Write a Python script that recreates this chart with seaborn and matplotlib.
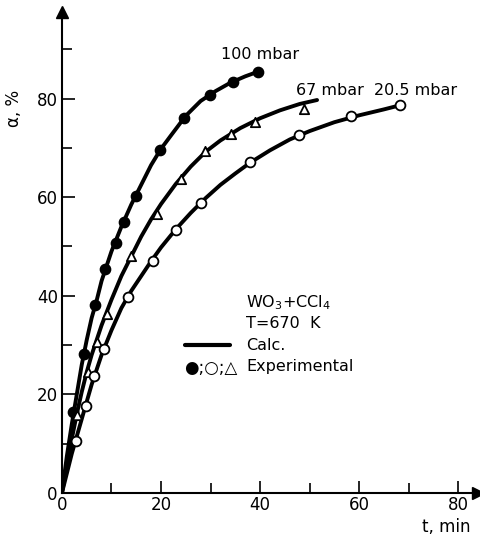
import numpy as np
import pandas as pd
import matplotlib
matplotlib.use('Agg')
import matplotlib.pyplot as plt
import seaborn as sns

sns.set_theme(style="white")
plt.rcParams['font.family'] = ['DejaVu Sans']
plt.rcParams['mathtext.fontset'] = 'dejavusans'
plt.rcParams['text.color'] = 'black'

# Experimental points, t [min] vs alpha [%]
t_100 = [2.3, 4.4, 6.7, 8.7, 10.9, 12.5, 15.0, 19.8, 24.6, 29.9, 34.5, 39.6]
a_100 = [16.5, 28.2, 38.1, 45.4, 50.7, 55.0, 60.2, 69.6, 76.1, 80.7, 83.4, 85.4]

t_67 = [3.0, 5.3, 7.1, 9.1, 13.9, 19.2, 24.0, 28.9, 34.1, 39.0, 48.9]
a_67 = [15.8, 24.5, 30.6, 36.3, 48.1, 56.6, 63.7, 69.4, 72.8, 75.2, 77.9]

t_20 = [2.8, 4.8, 6.5, 8.5, 13.3, 18.4, 23.0, 28.1, 38.0, 47.9, 58.4, 68.3]
a_20 = [10.5, 17.6, 23.7, 29.2, 39.8, 47.1, 53.3, 58.8, 67.1, 72.6, 76.5, 78.7]

# Calculated curves
tc_100 = [0, 1, 2, 3, 4, 5, 6, 7, 8, 9, 10, 11, 12, 14, 16, 18, 20, 22, 25, 28, 31, 34, 37, 40]
ac_100 = [0, 7.5, 14, 20, 26, 31, 35.5, 39, 43, 46, 49, 51.5, 54, 58.5, 62.5, 66.5, 69.8,
          72.5, 76.5, 79.5, 81.5, 83.2, 84.5, 85.6]

tc_67 = [0, 1, 2, 3, 4, 5, 6, 7, 8, 10, 12, 14, 16, 18, 20, 23, 26, 29, 32, 36, 40, 44, 48, 51.5]
ac_67 = [0, 5.5, 11, 16, 20.5, 24.5, 28, 31, 34, 39.2, 44, 48, 52, 55.5, 58.6, 62.7, 66.2,
         69.2, 71.5, 74, 76, 77.6, 78.9, 79.7]

tc_20 = [0, 1, 2, 3, 4, 5, 6, 7, 8, 10, 12, 14, 16, 18, 20, 23, 26, 29, 32, 35, 38, 42, 46,
         50, 55, 60, 65, 68.5]
ac_20 = [0, 4, 8, 11.5, 15, 18.5, 22, 25, 28, 33, 37.5, 41, 44, 47, 49.8, 53.5, 56.8, 59.8,
         62.5, 64.8, 67, 69.5, 71.7, 73.4, 75.2, 76.6, 77.8, 78.7]

fig = plt.figure(figsize=(4.8, 5.42), dpi=100)
ax = fig.add_axes([0.129, 0.0904, 0.867, 0.887])

for tc, ac in [(tc_100, ac_100), (tc_67, ac_67), (tc_20, ac_20)]:
    sns.lineplot(x=tc, y=ac, ax=ax, color='black', lw=2.8, sort=False,
                 solid_capstyle='round', solid_joinstyle='round')

sns.scatterplot(x=t_100, y=a_100, ax=ax, marker='o', s=55, color='black',
                edgecolor='black', linewidth=1, zorder=3)
sns.scatterplot(x=t_67, y=a_67, ax=ax, marker='^', s=45, facecolor='white',
                edgecolor='black', linewidth=1.3, zorder=3)
sns.scatterplot(x=t_20, y=a_20, ax=ax, marker='o', s=50, facecolor='white',
                edgecolor='black', linewidth=1.3, zorder=3)

ax.set_xlim(0, 84)
ax.set_ylim(0, 97.5)
for s in ['top', 'right']:
    ax.spines[s].set_visible(False)
for s in ['left', 'bottom']:
    ax.spines[s].set_linewidth(1.5)
    ax.spines[s].set_color('black')

ax.plot(1, 0, '>', color='black', ms=9, transform=ax.transAxes, clip_on=False)
ax.plot(0, 1, '^', color='black', ms=9, transform=ax.transAxes, clip_on=False)

ax.set_xticks([0, 20, 40, 60, 80])
ax.set_yticks([0, 20, 40, 60, 80])
ax.set_xticks([10, 30, 50, 70], minor=True)
ax.set_yticks([10, 30, 50, 70, 90], minor=True)
ax.tick_params(which='both', direction='in', width=1.2, color='black',
               labelsize=12, labelcolor='black', bottom=True, left=True)
ax.tick_params(which='major', length=9)
ax.tick_params(axis='x', which='major', pad=2)
ax.tick_params(axis='y', which='major', pad=3)
ax.tick_params(which='minor', length=7)

fig.text(0.03, 0.80, 'α, %', rotation=90, fontsize=12, ha='center', va='center')
fig.text(0.93, 0.027, 't, min', fontsize=12, ha='center', va='center')

ax.text(40, 89, '100 mbar', fontsize=11.5, ha='center', va='center')
ax.text(54, 81.7, '67 mbar', fontsize=11.5, ha='center', va='center')
ax.text(71.3, 81.7, '20.5 mbar', fontsize=11.5, ha='center', va='center')

ax.text(37.2, 38.7, r'WO$_3$+CCl$_4$', fontsize=11.5, ha='left', va='center')
ax.text(37.2, 34.3, 'T=670  K', fontsize=11.5, ha='left', va='center')
ax.text(37.2, 30.0, 'Calc.', fontsize=11.5, ha='left', va='center')
ax.text(37.2, 25.6, 'Experimental', fontsize=11.5, ha='left', va='center')
ax.plot([24.8, 34.0], [30.0, 30.0], color='black', lw=3, solid_capstyle='round')
ax.text(24.6, 25.4, '●;○;△', fontsize=12, ha='left', va='center')

fig.savefig('out.png', dpi=100)
